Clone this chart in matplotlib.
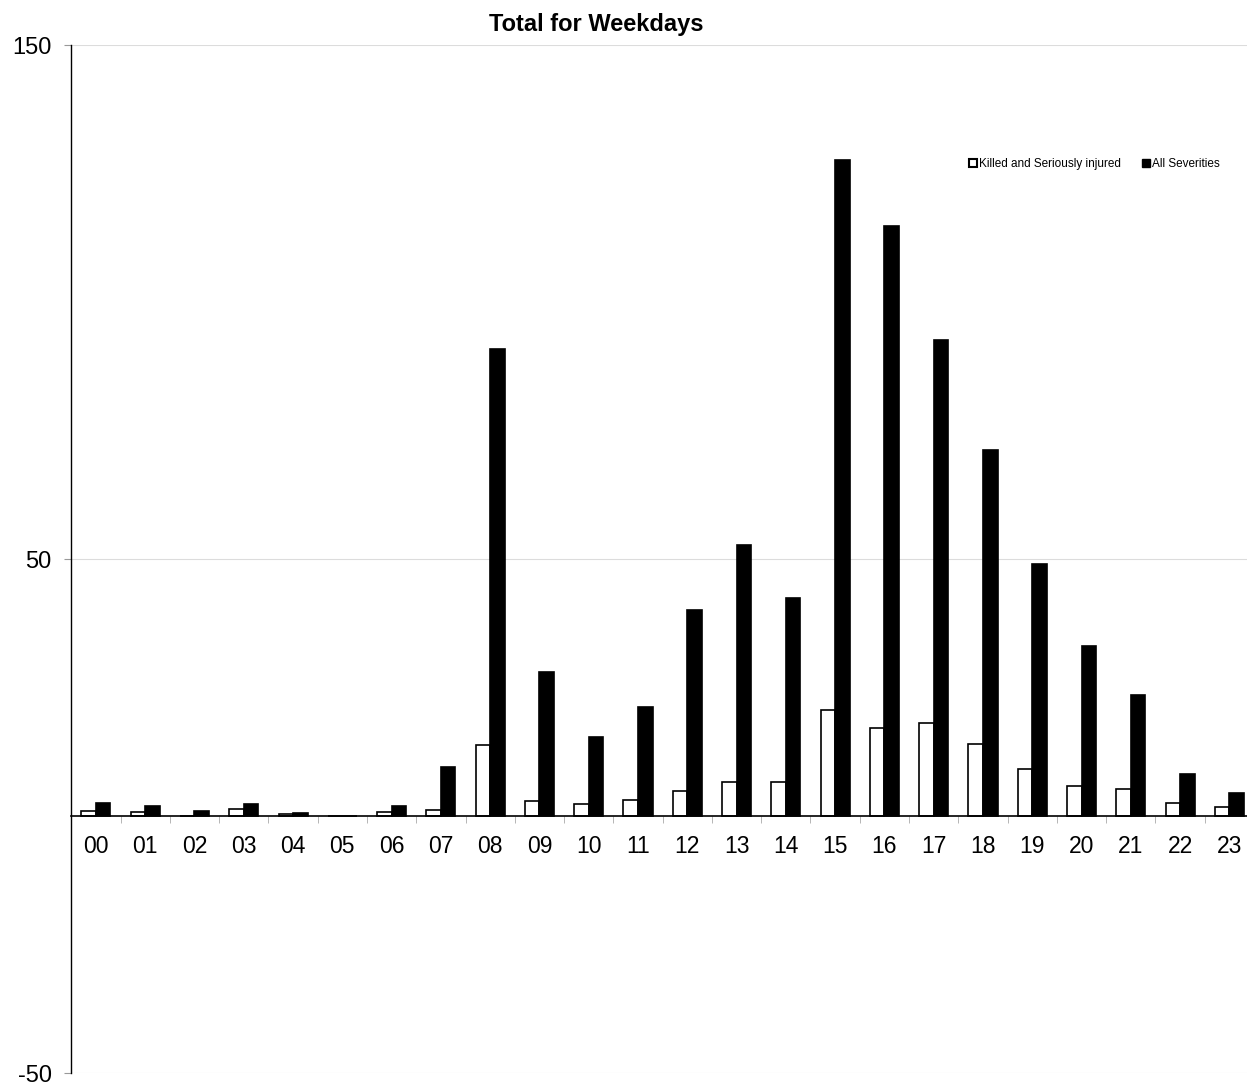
import matplotlib
matplotlib.use("Agg")
import matplotlib.pyplot as plt
import numpy as np
from matplotlib.patches import Patch

plt.rcParams['font.family'] = ['Liberation Sans', 'DejaVu Sans']

hours = ["00", "01", "02", "03", "04", "05", "06", "07", "08", "09", "10", "11",
         "12", "13", "14", "15", "16", "17", "18", "19", "20", "21", "22", "23"]
ksi = [1.0, 0.7, 0.0, 1.4, 0.3, 0.0, 0.8, 1.2, 13.8, 2.9, 2.3, 3.2,
       4.9, 6.6, 6.6, 20.7, 17.1, 18.0, 14.1, 9.1, 5.9, 5.3, 2.5, 1.7]
all_sev = [2.6, 2.0, 1.0, 2.3, 0.6, 0.0, 2.0, 9.5, 90.9, 28.0, 15.4, 21.2,
           40.0, 52.7, 42.4, 127.6, 114.8, 92.6, 71.2, 49.0, 33.0, 23.5, 8.2, 4.4]
series_names = ["Killed and Seriously injured", "All Severities"]
y_ticks = [-50, 50, 150]

fig = plt.figure(figsize=(12.47, 10.82), dpi=100)
ax = fig.add_axes([71.3 / 1247, 1 - 1073 / 1082, (1254 - 71.3) / 1247, (1073 - 45) / 1082])

x = np.arange(len(hours))
w = 0.295
ax.bar(x - w / 2, ksi, width=w, color="white", edgecolor="black", linewidth=1.2, zorder=3)
ax.bar(x + w / 2, all_sev, width=w, color="black", edgecolor="black", linewidth=1.2, zorder=3)

ax.set_xlim(-0.5, len(hours) - 0.5)
ax.set_ylim(-50, 150)
ax.set_yticks(y_ticks)
ax.set_yticklabels([str(v) for v in y_ticks])
ax.yaxis.grid(True, color="#dcdcdc", linewidth=0.8, zorder=0)
ax.tick_params(axis="y", length=5, color="#999999", pad=9, labelsize=17)

ax.set_xticks(x)
ax.set_xticklabels(hours)
ax.set_xticks(np.arange(-0.5, len(hours) + 0.5, 1), minor=True)
ax.tick_params(axis="x", which="major", length=0, pad=14, labelsize=16.5)
ax.tick_params(axis="x", which="minor", length=5, color="#aaaaaa", direction="out")

ax.spines["top"].set_visible(False)
ax.spines["right"].set_visible(False)
ax.spines["bottom"].set_position(("data", 0))
ax.spines["bottom"].set_linewidth(1.2)
ax.spines["left"].set_linewidth(1.0)
ax.spines["bottom"].set_zorder(4)

fig.text(596 / 1247, 1 - 24 / 1082, "Total for Weekdays", ha="center", va="center",
         fontsize=17, fontweight="bold")

handles = [Patch(facecolor="white", edgecolor="black", linewidth=1.5),
           Patch(facecolor="black", edgecolor="black")]
leg = ax.legend(handles, series_names, loc="center", bbox_to_anchor=(1094 / 1247, 1 - 164 / 1082),
                bbox_transform=fig.transFigure, ncol=2, frameon=False, fontsize=8.5,
                handlelength=0.7, handleheight=0.7, handletextpad=0.15, columnspacing=1.8)

fig.savefig("out.png", dpi=100)
